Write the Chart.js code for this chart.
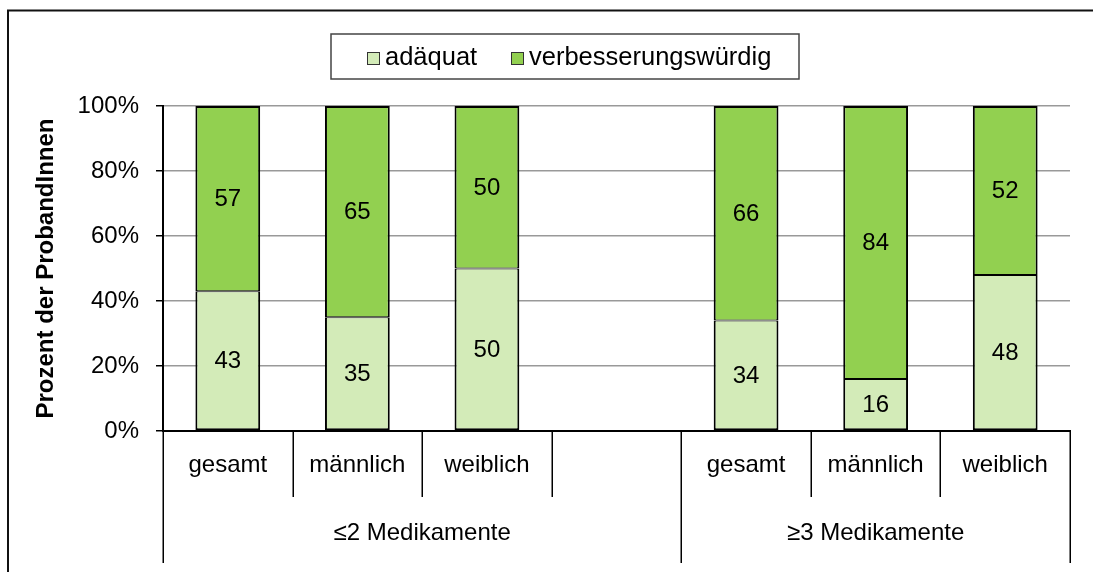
<!DOCTYPE html>
<html>
<head>
<meta charset="utf-8">
<script src="https://cdn.jsdelivr.net/npm/chart.js@4"></script>
<style>
  html, body { margin: 0; padding: 0; background: #fff; }
  canvas { display: block; }
</style>
</head>
<body>
<canvas id="chart" width="1093" height="572"></canvas>
<script>
// data
const categories = ['gesamt', 'männlich', 'weiblich', '', 'gesamt', 'männlich', 'weiblich'];
const groupLabels = ['≤2 Medikamente', '≥3 Medikamente'];
const groupStart = [0, 4];   // first category index of each group
const groupEnd = [4, 7];     // one past the last category
const adaequat = [43, 35, 50, null, 34, 16, 48];
const verbesserungswuerdig = [57, 65, 50, null, 66, 84, 52];
const yTicks = [0, 20, 40, 60, 80, 100];

const FONT = '"Liberation Sans", Arial, sans-serif';
const LIGHT = '#d3ebb8';
const DARK = '#92d050';

// outer frame (top and left only visible)
const framePlugin = {
    id: 'frame',
    beforeDraw(chart) {
        const ctx = chart.ctx;
        ctx.save();
        ctx.strokeStyle = '#111';
        ctx.lineWidth = 2;
        ctx.beginPath();
        ctx.moveTo(8, 572);
        ctx.lineTo(8, 10.5);
        ctx.lineTo(1093, 10.5);
        ctx.stroke();
        ctx.restore();
    }
};

// legend drawn as a boxed row above the plot
const legendPlugin = {
    id: 'boxLegend',
    afterDraw(chart) {
        const ctx = chart.ctx;
        ctx.save();
        ctx.strokeStyle = '#444';
        ctx.lineWidth = 1.5;
        ctx.strokeRect(331, 34, 468, 45);
        ctx.font = '25.5px ' + FONT;
        ctx.textBaseline = 'middle';
        const items = [
            { x: 367, label: chart.data.datasets[0].label, color: LIGHT },
            { x: 511, label: chart.data.datasets[1].label, color: DARK }
        ];
        items.forEach(it => {
            ctx.fillStyle = it.color;
            ctx.fillRect(it.x, 52, 12, 12);
            ctx.strokeStyle = '#333';
            ctx.lineWidth = 1;
            ctx.strokeRect(it.x + 0.5, 52.5, 12, 12);
            ctx.fillStyle = '#000';
            ctx.textAlign = 'left';
            ctx.fillText(it.label, it.x + 18, 58);
        });
        ctx.restore();
    }
};

// value labels centred in each segment
const valuePlugin = {
    id: 'values',
    afterDatasetsDraw(chart) {
        const ctx = chart.ctx;
        ctx.save();
        ctx.font = '24px ' + FONT;
        ctx.fillStyle = '#000';
        ctx.textAlign = 'center';
        ctx.textBaseline = 'middle';
        chart.data.datasets.forEach((ds, i) => {
            chart.getDatasetMeta(i).data.forEach((bar, j) => {
                const v = ds.data[j];
                if (v == null) return;
                ctx.fillText(String(v), bar.x, (bar.y + bar.base) / 2 + 1);
            });
        });
        ctx.restore();
    }
};

// two-level category axis: dividers, category names, group names
const axisPlugin = {
    id: 'multiAxis',
    afterDraw(chart) {
        const ctx = chart.ctx;
        const xs = chart.scales.x;
        const n = categories.length;
        const w = (xs.right - xs.left) / n;
        const top = xs.top;
        const mid = top + 66;
        const bottom = top + 132;
        const edge = i => xs.getPixelForValue(0) - w / 2 + i * w;
        const longLines = [0].concat(groupEnd);
        ctx.save();
        ctx.strokeStyle = '#000';
        ctx.lineWidth = 1.5;
        for (let i = 0; i <= n; i++) {
            const x = Math.round(edge(i)) + 0.25;
            ctx.beginPath();
            ctx.moveTo(x, top);
            ctx.lineTo(x, longLines.includes(i) ? bottom : mid);
            ctx.stroke();
        }
        ctx.font = '24px ' + FONT;
        ctx.fillStyle = '#000';
        ctx.textAlign = 'center';
        ctx.textBaseline = 'middle';
        categories.forEach((c, i) => {
            if (c) ctx.fillText(c, xs.getPixelForValue(i), top + 34);
        });
        groupLabels.forEach((g, k) => {
            const cx = (edge(groupStart[k]) + edge(groupEnd[k])) / 2;
            ctx.fillText(g, cx, mid + 36);
        });
        ctx.restore();
    }
};

const ctx = document.getElementById('chart').getContext('2d');
const chart = new Chart(ctx, {
    type: 'bar',
    data: {
        labels: categories,
        datasets: [{
            label: 'adäquat',
            data: adaequat,
            backgroundColor: LIGHT,
            borderColor: '#000',
            borderWidth: { top: 1, bottom: 2, left: 2, right: 2 },
            borderSkipped: false
        }, {
            label: 'verbesserungswürdig',
            data: verbesserungswuerdig,
            backgroundColor: DARK,
            borderColor: '#000',
            borderWidth: { top: 2, bottom: 1, left: 2, right: 2 },
            borderSkipped: false
        }]
    },
    options: {
        responsive: false,
        animation: false,
        devicePixelRatio: 1,
        categoryPercentage: 1,
        barPercentage: 0.5,
        layout: { padding: { top: 106, right: 23, bottom: 9, left: 0 } },
        plugins: {
            legend: { display: false },
            tooltip: { enabled: false }
        },
        scales: {
            x: {
                stacked: true,
                grid: { display: false },
                ticks: { display: false },
                border: { display: true, color: '#000', width: 2 },
                afterFit(scale) { scale.height = 132; }
            },
            y: {
                stacked: true,
                min: 0,
                max: 100,
                afterBuildTicks(scale) { scale.ticks = yTicks.map(v => ({ value: v })); },
                ticks: {
                    callback: v => v + '%',
                    font: { family: FONT, size: 24 },
                    color: '#000',
                    padding: 17
                },
                grid: { color: '#999', lineWidth: 1.5, tickLength: 7, tickColor: '#000' },
                border: { display: true, color: '#000', width: 2 },
                title: {
                    display: true,
                    text: 'Prozent der ProbandInnen',
                    font: { family: FONT, size: 24, weight: 'bold' },
                    color: '#000',
                    padding: { top: 32, bottom: 0 }
                },
                afterFit(scale) { scale.width = 163; }
            }
        }
    },
    plugins: [framePlugin, axisPlugin, valuePlugin, legendPlugin]
});
</script>
</body>
</html>
